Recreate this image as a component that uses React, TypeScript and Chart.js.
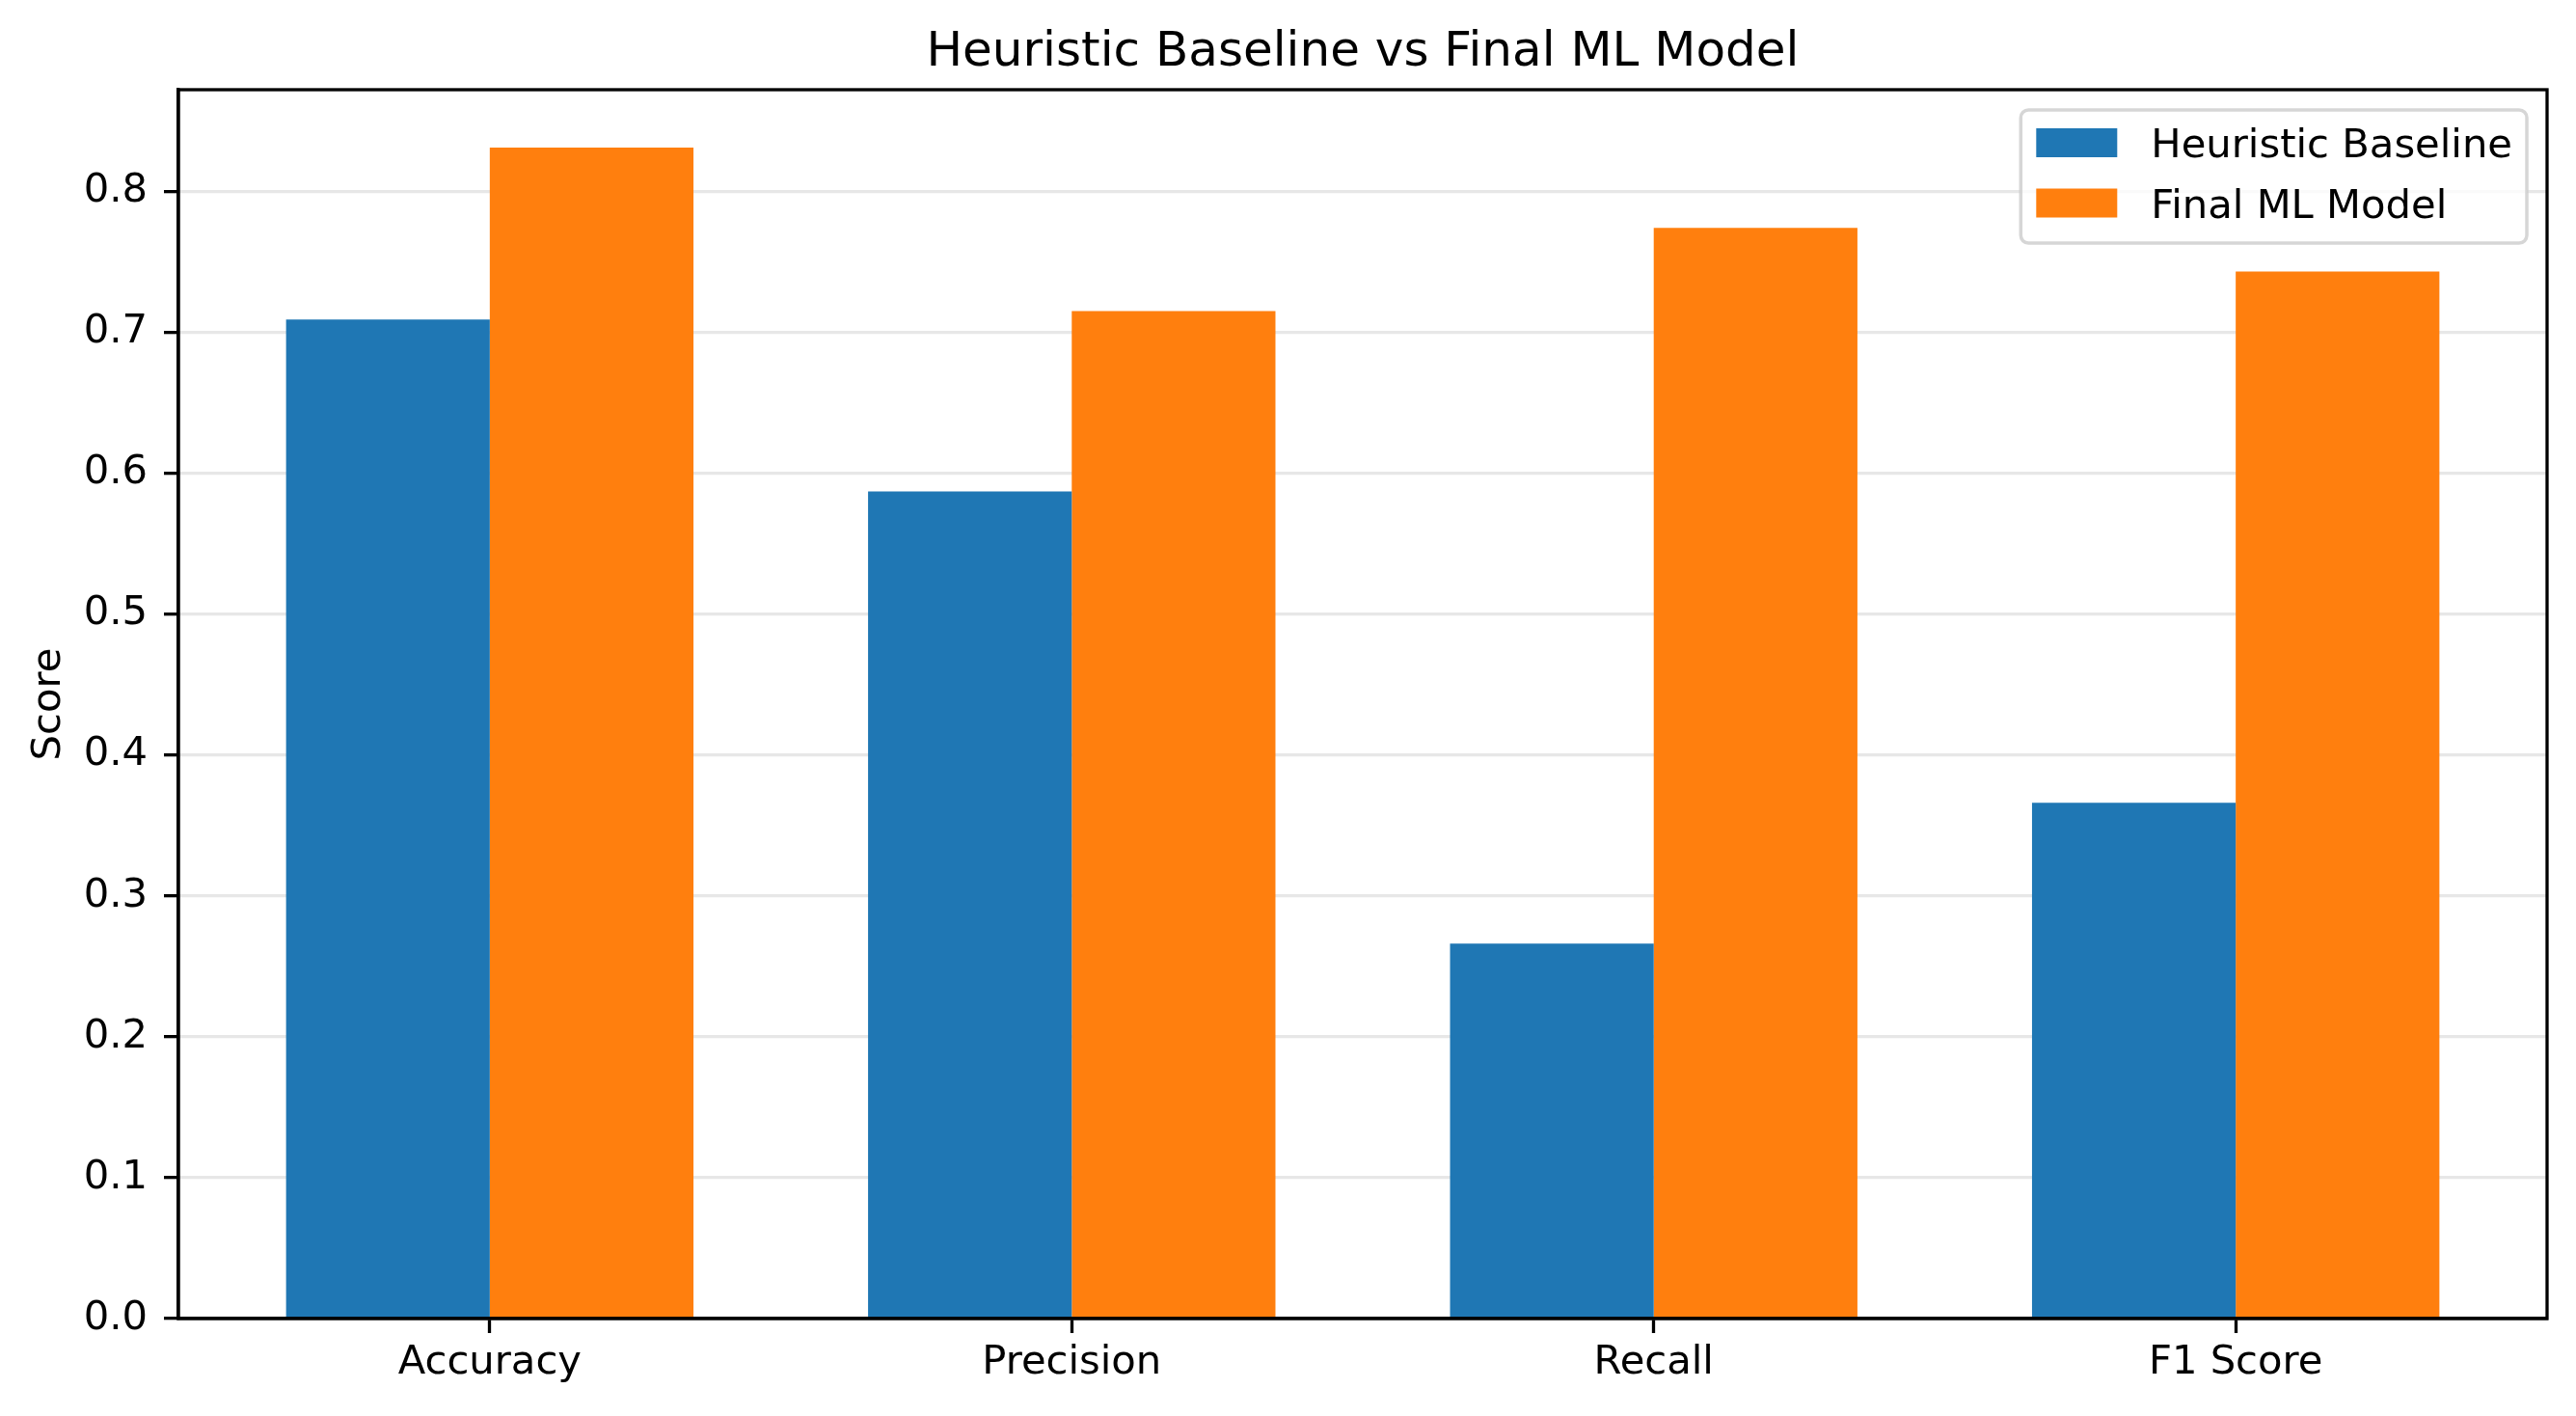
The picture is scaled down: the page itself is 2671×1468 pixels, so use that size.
import React, { useEffect, useRef } from 'react';
import { Chart, registerables } from 'chart.js';

Chart.register(...registerables);

const categories = ['Accuracy', 'Precision', 'Recall', 'F1 Score'];
const heuristicScores = [0.709, 0.587, 0.266, 0.366];
const mlScores = [0.831, 0.715, 0.774, 0.743];
const yTicks = [0, 0.1, 0.2, 0.3, 0.4, 0.5, 0.6, 0.7, 0.8];
const seriesNames = ['Heuristic Baseline', 'Final ML Model'];
const seriesColors = ['#1f77b4', '#ff7f0e'];
const chartTitle = 'Heuristic Baseline vs Final ML Model';
const yAxisLabel = 'Score';

const FONT = '"DejaVu Sans", sans-serif';
const TICK_SIZE = 41.7;
const LINE_W = 3.3;

// title, y label, full axes frame and matplotlib-style legend
const mplDecor = {
  id: 'mplDecor',
  afterDraw(chart: any) {
    const { ctx, chartArea: a } = chart;
    ctx.save();

    ctx.strokeStyle = '#000';
    ctx.lineWidth = LINE_W;
    ctx.strokeRect(a.left, a.top, a.right - a.left, a.bottom - a.top);

    ctx.fillStyle = '#000';
    ctx.font = `50px ${FONT}`;
    ctx.textAlign = 'center';
    ctx.textBaseline = 'alphabetic';
    ctx.fillText(chartTitle, (a.left + a.right) / 2, a.top - 25);

    ctx.save();
    ctx.font = `${TICK_SIZE}px ${FONT}`;
    ctx.translate(62, (a.top + a.bottom) / 2);
    ctx.rotate(-Math.PI / 2);
    ctx.fillText(yAxisLabel, 0, 0);
    ctx.restore();

    // legend
    const sets = chart.data.datasets;
    ctx.font = `${TICK_SIZE}px ${FONT}`;
    const maxW = Math.max(...sets.map((d: any) => ctx.measureText(d.label).width));
    const boxRight = a.right - 21;
    const textX = boxRight - 15 - maxW;
    const patchX = textX - 35 - 84;
    const boxLeft = patchX - 16;
    const boxTop = a.top + 21;
    const rowGap = 62.5;
    const firstRow = boxTop + 34;
    const boxBottom = firstRow + rowGap * (sets.length - 1) + 41.5;

    ctx.beginPath();
    ctx.roundRect(boxLeft, boxTop, boxRight - boxLeft, boxBottom - boxTop, 8);
    ctx.fillStyle = 'rgba(255,255,255,0.8)';
    ctx.fill();
    ctx.strokeStyle = 'rgba(204,204,204,0.8)';
    ctx.lineWidth = 3.5;
    ctx.stroke();

    ctx.textAlign = 'left';
    sets.forEach((d: any, i: number) => {
      const cy = firstRow + i * rowGap;
      ctx.fillStyle = d.backgroundColor;
      ctx.fillRect(patchX, cy - 15, 84, 30);
      ctx.fillStyle = '#000';
      ctx.fillText(d.label, textX, cy + 15);
    });

    ctx.restore();
  },
};

const App: React.FC = () => {
  const canvasRef = useRef<HTMLCanvasElement>(null);
  const chartRef = useRef<Chart | null>(null);

  useEffect(() => {
    if (!canvasRef.current) return;
    const ctx = canvasRef.current.getContext('2d');
    if (!ctx) return;

    Chart.defaults.font.family = FONT;
    Chart.defaults.color = '#000';

    const seriesData = [heuristicScores, mlScores];

    chartRef.current = new Chart(ctx, {
      type: 'bar',
      data: {
        datasets: seriesData.map((vals, s) => ({
          label: seriesNames[s],
          data: vals.map((v, i) => ({ x: i, y: v })),
          backgroundColor: seriesColors[s],
          borderWidth: 0,
          categoryPercentage: 0.7,
          barPercentage: 1.0,
        })),
      },
      options: {
        responsive: false,
        animation: false,
        devicePixelRatio: 1,
        layout: { padding: { top: 93, right: 30, left: 0, bottom: 0 } },
        plugins: {
          legend: { display: false },
          title: { display: false },
          tooltip: { enabled: false },
        },
        scales: {
          x: {
            type: 'linear',
            offset: false,
            min: -0.535,
            max: categories.length - 1 + 0.535,
            afterBuildTicks: (scale: any) => {
              scale.ticks = categories.map((_, i) => ({ value: i }));
            },
            afterFit: (scale: any) => {
              scale.height = 101;
            },
            ticks: {
              callback: (v: any) => categories[Math.round(Number(v))] ?? '',
              font: { size: TICK_SIZE },
              color: '#000',
              padding: 6,
              maxRotation: 0,
              autoSkip: false,
            },
            grid: {
              offset: false,
              drawOnChartArea: false,
              drawTicks: true,
              tickLength: 15,
              tickWidth: LINE_W,
              tickColor: '#000',
            },
            border: { display: true, color: '#000', width: LINE_W },
          },
          y: {
            type: 'linear',
            min: 0,
            max: 0.872,
            z: 1,
            afterBuildTicks: (scale: any) => {
              scale.ticks = yTicks.map((v) => ({ value: v }));
            },
            afterFit: (scale: any) => {
              scale.width = 185;
            },
            ticks: {
              callback: (v: any) => Number(v).toFixed(1),
              font: { size: TICK_SIZE },
              color: '#000',
              padding: 17,
            },
            grid: {
              color: 'rgba(176,176,176,0.3)',
              lineWidth: LINE_W,
              drawTicks: true,
              tickLength: 15,
              tickWidth: LINE_W,
              tickColor: '#000',
            },
            border: { display: true, color: '#000', width: LINE_W },
          },
        },
      },
      plugins: [mplDecor],
    } as any);

    return () => {
      if (chartRef.current) {
        chartRef.current.destroy();
        chartRef.current = null;
      }
    };
  }, []);

  return (
    <div style={{ position: 'fixed', left: 0, top: 0, width: 2671, height: 1468, background: '#fff' }}>
      <canvas ref={canvasRef} width={2671} height={1468} style={{ display: 'block' }} />
    </div>
  );
};

export default App;
